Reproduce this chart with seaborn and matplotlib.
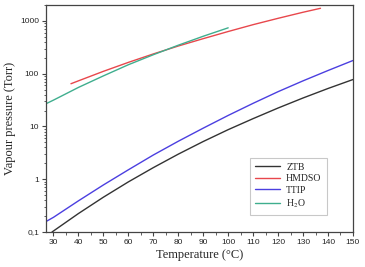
import pandas as pd
import numpy as np
import matplotlib
matplotlib.use('Agg')
import matplotlib.pyplot as plt
from matplotlib.ticker import MultipleLocator, LogLocator, FuncFormatter, NullFormatter
import seaborn as sns

# values (temperature in °C, vapour pressure in Torr)
ztb_t = [29.4, 40, 50, 60, 70, 80, 90, 100, 110, 120, 130, 140, 150]
ztb_p = [0.100, 0.224, 0.457, 0.891, 1.66, 2.99, 5.19, 8.71, 14.1, 22.4, 34.7, 52.5, 77.6]

hmdso_t = [37, 40, 50, 60, 70, 80, 90, 100, 110, 120, 130, 137]
hmdso_p = [64.6, 73.3, 111, 164, 237, 335, 462, 631, 851, 1122, 1462, 1738]

ttip_t = [27, 30, 40, 50, 60, 70, 80, 90, 100, 110, 120, 130, 140, 150]
ttip_p = [0.158, 0.19, 0.39, 0.78, 1.51, 2.88, 5.25, 9.3, 16.2, 27.5, 45.7, 73.3, 115, 178]

h2o_t = [27, 30, 40, 50, 60, 70, 80, 90, 100]
h2o_p = [27, 31.6, 55, 91, 148, 229, 347, 513, 741]

labels = ['ZTB', 'HMDSO', 'TTIP', r'H$_2$O']
colors = ['#333333', '#e8474c', '#4b3fe0', '#3fae8e']

frames = []
for lab, t, p in zip(labels, [ztb_t, hmdso_t, ttip_t, h2o_t], [ztb_p, hmdso_p, ttip_p, h2o_p]):
    frames.append(pd.DataFrame({'T': t, 'P': p, 'compound': lab}))
df = pd.concat(frames, ignore_index=True)

sns.set_style('ticks')
plt.rcParams['font.family'] = ['Liberation Serif', 'DejaVu Serif']
plt.rcParams['mathtext.fontset'] = 'stix'

fig = plt.figure(figsize=(3.65, 2.67), dpi=100)
ax = fig.add_axes([0.126, 0.131, 0.841, 0.850])

sns.lineplot(data=df, x='T', y='P', hue='compound', hue_order=labels,
             palette=dict(zip(labels, colors)), linewidth=1.0, ax=ax, sort=False)

ax.set_yscale('log')
ax.set_xlim(27, 150)
ax.set_ylim(0.1, 2000)
ax.xaxis.set_major_locator(MultipleLocator(10))
ax.xaxis.set_minor_locator(MultipleLocator(5))
ax.yaxis.set_major_locator(LogLocator(base=10, numticks=10))
ax.yaxis.set_minor_locator(LogLocator(base=10, subs=np.arange(2, 10), numticks=20))
ax.yaxis.set_minor_formatter(NullFormatter())
ax.yaxis.set_major_formatter(FuncFormatter(lambda v, pos: '0,1' if v < 1 else f'{v:g}'))

for s in ax.spines.values():
    s.set_visible(True)
    s.set_color('#444444')
    s.set_linewidth(0.9)

ax.tick_params(which='major', direction='out', length=3, width=0.8, color='#444444',
               labelsize=6, pad=2)
ax.tick_params(which='minor', direction='out', length=1.8, width=0.6, color='#444444')
for lab in ax.get_xticklabels() + ax.get_yticklabels():
    lab.set_fontfamily('Liberation Sans')

ax.set_xlabel('Temperature (°C)', fontsize=9, labelpad=2)
ax.set_ylabel('Vapour pressure (Torr)', fontsize=9, labelpad=3)

leg = ax.legend(loc='lower right', bbox_to_anchor=(0.915, 0.075), borderaxespad=0,
                fontsize=7, frameon=True, fancybox=False, edgecolor='#bbbbbb',
                handlelength=2.6, labelspacing=0.25, borderpad=0.55, handletextpad=0.6,
                title=None)
leg.get_frame().set_linewidth(0.8)

fig.savefig('out.png', dpi=100)
